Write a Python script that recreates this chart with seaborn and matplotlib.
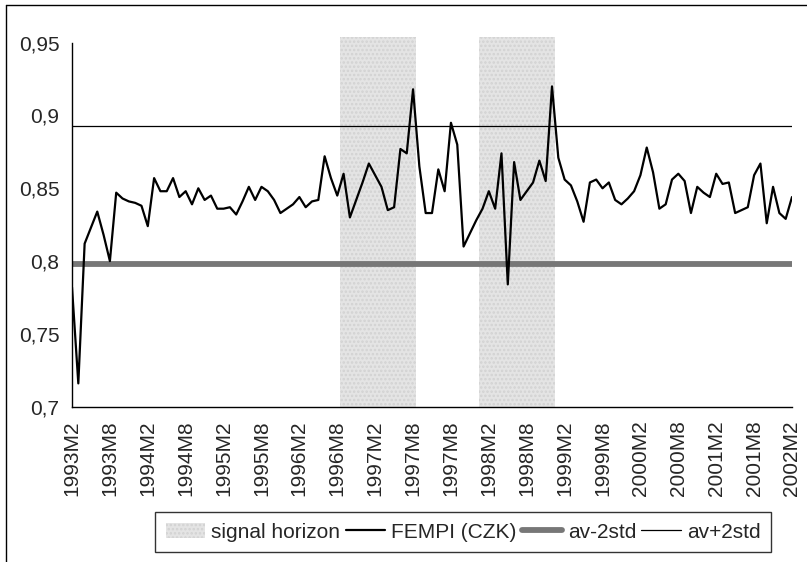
import numpy as np
import pandas as pd
import matplotlib
matplotlib.use("Agg")
import matplotlib.pyplot as plt
import seaborn as sns
from matplotlib.lines import Line2D
from matplotlib.patches import Patch

# x-axis labels, one every 6 months (as printed on the original chart)
tick_labels = ["1993M2", "1993M8", "1994M2", "1994M8", "1995M2", "1995M8",
               "1996M2", "1996M8", "1997M2", "1997M8", "1997M8", "1998M2",
               "1998M8", "1999M2", "1999M8", "2000M2", "2000M8", "2001M2",
               "2001M8", "2002M2"]

# FEMPI (CZK), monthly values
fempi = [0.782, 0.716, 0.812, 0.823, 0.834, 0.818, 0.800, 0.847, 0.843, 0.841,
         0.840, 0.838, 0.824, 0.857, 0.848, 0.848, 0.857, 0.844, 0.848, 0.839,
         0.850, 0.842, 0.845, 0.836, 0.836, 0.837, 0.832, 0.841, 0.851, 0.842,
         0.851, 0.848, 0.842, 0.833, 0.836, 0.839, 0.844, 0.837, 0.841, 0.842,
         0.872, 0.857, 0.845, 0.860, 0.830, 0.842, 0.854, 0.867, 0.859, 0.851,
         0.835, 0.837, 0.877, 0.874, 0.918, 0.865, 0.833, 0.833, 0.863, 0.848,
         0.895, 0.880, 0.810, 0.819, 0.828, 0.836, 0.848, 0.836, 0.874, 0.784,
         0.868, 0.842, 0.848, 0.854, 0.869, 0.855, 0.920, 0.871, 0.856, 0.852,
         0.841, 0.827, 0.854, 0.856, 0.850, 0.854, 0.842, 0.839, 0.843, 0.848,
         0.859, 0.878, 0.861, 0.836, 0.839, 0.856, 0.860, 0.855, 0.833, 0.851,
         0.847, 0.844, 0.860, 0.853, 0.854, 0.833, 0.835, 0.837, 0.859, 0.867,
         0.826, 0.851, 0.833, 0.829, 0.844]

av_minus_2std = 0.798
av_plus_2std = 0.893

# signal horizons (month index, inclusive)
horizon_start = [43, 65]
horizon_end = [54, 76]

y_ticks = [0.7, 0.75, 0.8, 0.85, 0.9, 0.95]
y_tick_labels = ["0,7", "0,75", "0,8", "0,85", "0,9", "0,95"]

df = pd.DataFrame({"month": np.arange(len(fempi)), "FEMPI (CZK)": fempi})
df["av-2std"] = av_minus_2std
df["av+2std"] = av_plus_2std
df["signal"] = 0
for s, e in zip(horizon_start, horizon_end):
    df.loc[s:e, "signal"] = 1

sns.set_style("white")
plt.rcParams["font.family"] = ["Liberation Sans", "DejaVu Sans"]
plt.rcParams["hatch.linewidth"] = 1.2

band_face = "#e4e4e4"
band_hatch = "#d2d2d2"
thick_gray = "#777777"
fs = 15

fig = plt.figure(figsize=(8.07, 5.62), dpi=100)
ax = fig.add_axes([72 / 807, 1 - 406.7 / 562, 720 / 807, 364 / 562])

sig = df[df["signal"] == 1]
ax.bar(sig["month"], 0.954 - 0.7, bottom=0.7, width=1.0, color=band_face,
       edgecolor=band_hatch, hatch="....", linewidth=0, clip_on=False, zorder=1)

sns.lineplot(data=df, x="month", y="av-2std", color=thick_gray, linewidth=4.2,
             ax=ax, zorder=2)
sns.lineplot(data=df, x="month", y="av+2std", color="black", linewidth=0.9,
             ax=ax, zorder=2)
sns.lineplot(data=df, x="month", y="FEMPI (CZK)", color="black", linewidth=1.6,
             ax=ax, zorder=3)

ax.set_xlim(0, len(fempi) - 1)
ax.set_ylim(0.7, 0.95)
ax.set_xlabel("")
ax.set_ylabel("")

ax.set_xticks(np.arange(0, len(fempi), 6))
ax.set_xticklabels(tick_labels, rotation=90, fontsize=fs)
ax.set_xticks(np.arange(0, len(fempi)), minor=True)
ax.set_yticks(y_ticks)
ax.set_yticklabels(y_tick_labels, fontsize=fs)
ax.tick_params(axis="both", which="both", direction="out", length=4, width=1,
               color="black", pad=5)
ax.tick_params(axis="x", which="major", pad=6)

for side in ["top", "right"]:
    ax.spines[side].set_visible(False)
for side in ["left", "bottom"]:
    ax.spines[side].set_color("black")
    ax.spines[side].set_linewidth(1)

handles = [
    Patch(facecolor=band_face, edgecolor=band_hatch, hatch="....", linewidth=0),
    Line2D([], [], color="black", linewidth=1.6),
    Line2D([], [], color=thick_gray, linewidth=4.2),
    Line2D([], [], color="black", linewidth=0.9),
]
labels = ["signal horizon", "FEMPI (CZK)", "av-2std", "av+2std"]
leg = fig.legend(handles, labels, loc="center", bbox_to_anchor=(0.574, 0.053),
                 ncol=4, frameon=True, fancybox=False, edgecolor="black",
                 fontsize=fs, handlelength=1.9, columnspacing=0.25,
                 handletextpad=0.3, borderpad=0.5)
leg.get_frame().set_linewidth(1)

# chart area border (left and top edges visible)
fig.add_artist(Line2D([6 / 807, 6 / 807], [0, 1 - 5 / 562], color="black",
                      linewidth=1, transform=fig.transFigure))
fig.add_artist(Line2D([6 / 807, 1], [1 - 5 / 562, 1 - 5 / 562], color="black",
                      linewidth=1, transform=fig.transFigure))

fig.savefig("out.png", dpi=100)
